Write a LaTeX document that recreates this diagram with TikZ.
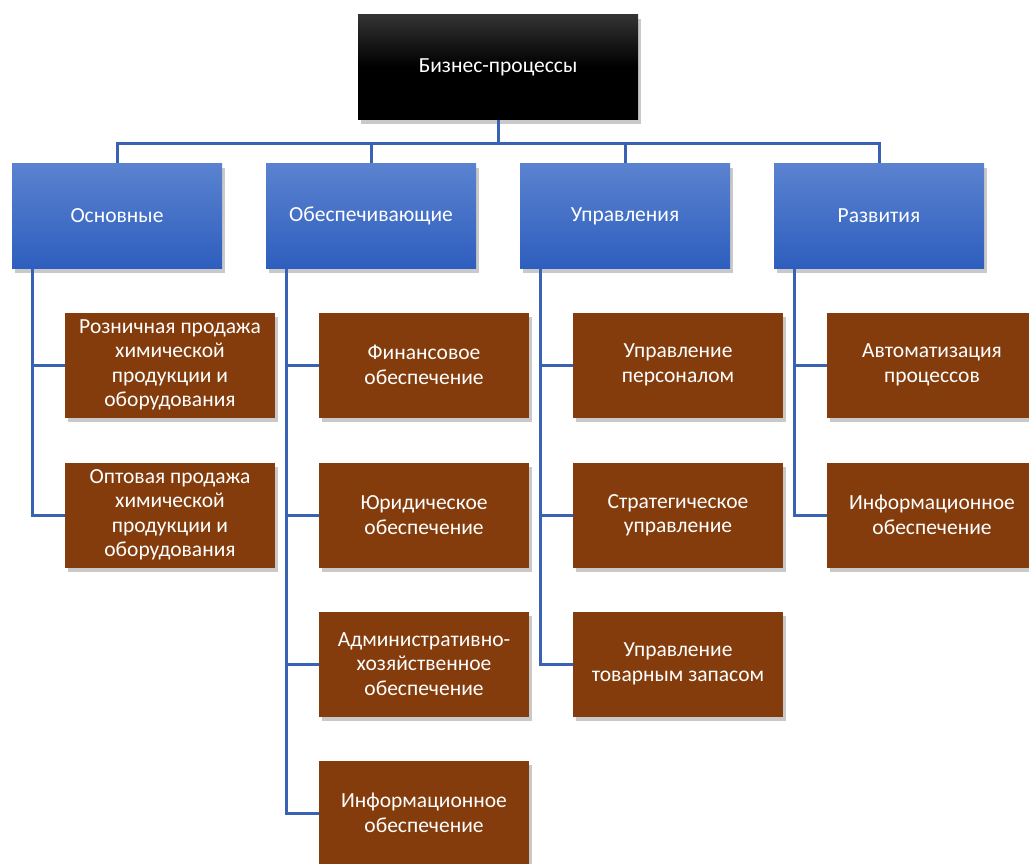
\documentclass[tikz,border=0pt]{standalone}
\usepackage{fontspec}
\setmainfont{Carlito}
\usetikzlibrary{shadows}
\definecolor{lineblue}{HTML}{3A62B4}
\definecolor{bluetop}{HTML}{5A82CF}
\definecolor{bluebot}{HTML}{2E5EBE}
\definecolor{brownfill}{HTML}{843C0C}
\tikzset{
  x=1pt,y=-1pt,
  shad/.style={drop shadow={shadow xshift=3pt,shadow yshift=-4pt,opacity=0.3,fill=black!70}},
  topbox/.style={shad,minimum width=280pt,minimum height=105pt,top color=black!80,bottom color=black,middle color=black,text=white,font=\fontsize{21.5}{25}\selectfont,inner sep=0pt},
  catbox/.style={shad,minimum width=210pt,minimum height=105pt,top color=bluetop,bottom color=bluebot,text=white,font=\fontsize{21.5}{25}\selectfont,inner sep=0pt},
  leafbox/.style={shad,minimum width=210pt,minimum height=105pt,fill=brownfill,text=white,font=\fontsize{21.5}{24.5}\selectfont,align=center,inner sep=0pt},
  conn/.style={draw=lineblue,line width=3pt}
}
\begin{document}
\begin{tikzpicture}
\useasboundingbox (0,0) rectangle (1029,863);
\begin{scope}
\clip (0,0) rectangle (1029,863);
\node[topbox] (top) at (498,67) {Бизнес-процессы};
\node[catbox] (c1) at (117,216) {Основные};
\node[catbox] (c2) at (371,216) {Обеспечивающие};
\node[catbox] (c3) at (625,216) {Управления};
\node[catbox] (c4) at (879,216) {Развития};
% column 1
\node[leafbox] (a1) at (170,365) {Розничная продажа\\химической\\продукции и\\оборудования};
\node[leafbox] (a2) at (170,515) {Оптовая продажа\\химической\\продукции и\\оборудования};
% column 2
\node[leafbox] (b1) at (424,365) {Финансовое\\обеспечение};
\node[leafbox] (b2) at (424,515) {Юридическое\\обеспечение};
\node[leafbox] (b3) at (424,664) {Административно-\\хозяйственное\\обеспечение};
\node[leafbox] (b4) at (424,813) {Информационное\\обеспечение};
% column 3
\node[leafbox] (d1) at (678,365) {Управление\\персоналом};
\node[leafbox] (d2) at (678,515) {Стратегическое\\управление};
\node[leafbox] (d3) at (678,664) {Управление\\товарным запасом};
% column 4
\node[leafbox] (e1) at (932,365) {Автоматизация\\процессов};
\node[leafbox] (e2) at (932,515) {Информационное\\обеспечение};
% connectors
\coordinate (bus) at (498,143);
\draw[conn] (top.south) -- (bus);
\draw[conn] (c1.north) |- (bus) -| (c4.north);
\draw[conn] (c2.north) -- (c2.north |- bus);
\draw[conn] (c3.north) -- (c3.north |- bus);
\draw[conn] ([xshift=21pt]c1.south west) |- (a2.west);
\draw[conn] ([xshift=21pt]c1.south west) |- (a1.west);
\draw[conn] ([xshift=21pt]c2.south west) |- (b4.west);
\draw[conn] ([xshift=21pt]c2.south west) |- (b1.west);
\draw[conn] ([xshift=21pt]c2.south west) |- (b2.west);
\draw[conn] ([xshift=21pt]c2.south west) |- (b3.west);
\draw[conn] ([xshift=21pt]c3.south west) |- (d3.west);
\draw[conn] ([xshift=21pt]c3.south west) |- (d1.west);
\draw[conn] ([xshift=21pt]c3.south west) |- (d2.west);
\draw[conn] ([xshift=21pt]c4.south west) |- (e2.west);
\draw[conn] ([xshift=21pt]c4.south west) |- (e1.west);
\end{scope}
\end{tikzpicture}
\end{document}
